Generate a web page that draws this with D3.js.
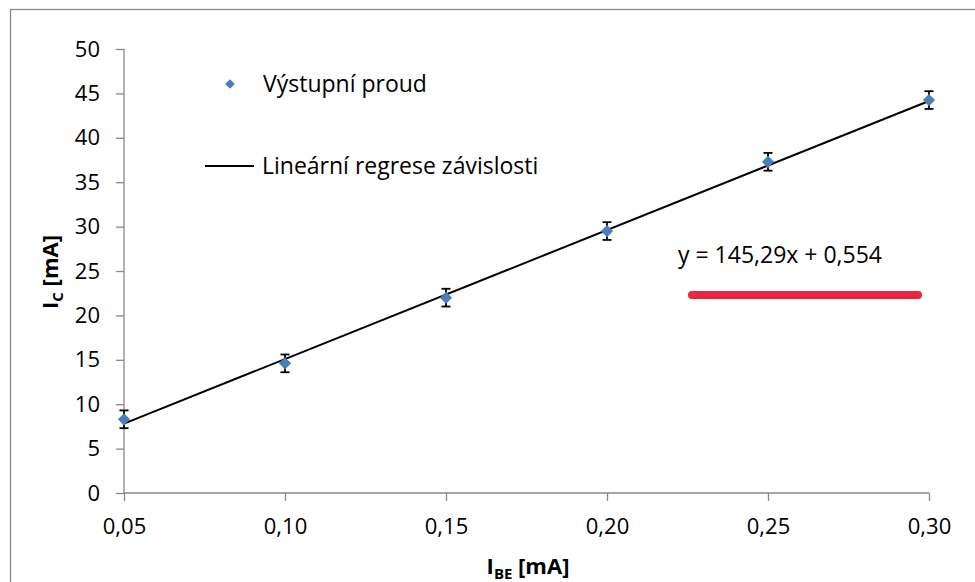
<!DOCTYPE html>
<html>
<head>
<meta charset="utf-8">
<script src="https://cdn.jsdelivr.net/npm/d3@7"></script>
<style>
  body { margin: 0; background: #fff; }
  text { font-family: "Open Sans", sans-serif; fill: #000; }
</style>
</head>
<body>
<div id="chart"></div>
<script>
// measured points: base current (mA) vs collector current (mA)
const ibe = [0.05, 0.10, 0.15, 0.20, 0.25, 0.30];
const ic = [8.3, 14.6, 22.0, 29.5, 37.3, 44.25];
const icErr = [1, 1, 1, 1, 1, 1];
const xTicks = [0.05, 0.10, 0.15, 0.20, 0.25, 0.30];
const yTicks = [0, 5, 10, 15, 20, 25, 30, 35, 40, 45, 50];
// trendline from the chart label
const slope = 145.29;
const intercept = 0.554;
const equation = "y = 145,29x + 0,554";
const legendLabels = ["Výstupní proud", "Lineární regrese závislosti"];

function chart() {
  const W = 975, H = 582;
  const left = 124, right = 929, top = 49, bottom = 493;
  const axisColor = "#898989";
  const fs = 23;

  const loc = d3.formatLocale({ decimal: ",", thousands: " ", grouping: [3], currency: ["", ""] });
  const fmt2 = loc.format(".2f");

  const svg = d3.select("#chart").append("svg")
    .attr("width", W).attr("height", H);

  // outer frame (cropped at right and bottom)
  svg.append("rect")
    .attr("x", 10.5).attr("y", 9.5)
    .attr("width", W + 20).attr("height", H + 20)
    .attr("fill", "none").attr("stroke", axisColor).attr("stroke-width", 1.3);

  const x = d3.scaleLinear().domain([0.05, 0.30]).range([left, right]);
  const y = d3.scaleLinear().domain([0, 50]).range([bottom, top]);

  const yAxis = svg.append("g")
    .attr("transform", `translate(${left},0)`)
    .call(d3.axisLeft(y).tickValues(yTicks).tickSize(8).tickPadding(16).tickFormat(d3.format("d")));
  const xAxis = svg.append("g")
    .attr("transform", `translate(0,${bottom})`)
    .call(d3.axisBottom(x).tickValues(xTicks).tickSize(8).tickPadding(17).tickFormat(fmt2));

  [xAxis, yAxis].forEach(a => {
    a.select(".domain").attr("stroke", axisColor).attr("stroke-width", 1.3);
    a.selectAll(".tick line").attr("stroke", axisColor).attr("stroke-width", 1.3);
    a.selectAll(".tick text")
      .attr("font-family", "Open Sans, sans-serif")
      .attr("font-size", fs - 1).attr("fill", "#000");
  });
  yAxis.select(".domain").attr("d", `M0,${top}V${bottom}`);
  xAxis.select(".domain").attr("d", `M${left},0H${right}`);

  // regression line
  const x0 = xTicks[0], x1 = xTicks[xTicks.length - 1];
  svg.append("line")
    .attr("x1", x(x0)).attr("y1", y(slope * x0 + intercept))
    .attr("x2", x(x1)).attr("y2", y(slope * x1 + intercept))
    .attr("stroke", "#000").attr("stroke-width", 2);

  const pts = ibe.map((v, i) => ({ x: v, y: ic[i], e: icErr[i] }));

  // error bars
  const eb = svg.append("g").attr("stroke", "#000").attr("stroke-width", 1.8);
  pts.forEach(d => {
    const cx = x(d.x);
    eb.append("line").attr("x1", cx).attr("x2", cx).attr("y1", y(d.y - d.e)).attr("y2", y(d.y + d.e));
    eb.append("line").attr("x1", cx - 4.5).attr("x2", cx + 4.5).attr("y1", y(d.y - d.e)).attr("y2", y(d.y - d.e));
    eb.append("line").attr("x1", cx - 4.5).attr("x2", cx + 4.5).attr("y1", y(d.y + d.e)).attr("y2", y(d.y + d.e));
  });

  // diamond markers
  const diamond = d3.symbol().type(d3.symbolDiamond2).size(95);
  svg.selectAll(".pt").data(pts).join("path")
    .attr("class", "pt")
    .attr("d", diamond)
    .attr("transform", d => `translate(${x(d.x)},${y(d.y)})`)
    .attr("fill", "#4a7ebb");

  // legend
  svg.append("path")
    .attr("d", d3.symbol().type(d3.symbolDiamond2).size(60))
    .attr("transform", "translate(230,84)")
    .attr("fill", "#4a7ebb");
  svg.append("text").attr("x", 263).attr("y", 92).attr("font-size", fs).text(legendLabels[0]);
  svg.append("line").attr("x1", 205).attr("x2", 254).attr("y1", 166).attr("y2", 166)
    .attr("stroke", "#000").attr("stroke-width", 2);
  svg.append("text").attr("x", 262).attr("y", 174).attr("font-size", fs).text(legendLabels[1]);

  // equation + red highlight
  svg.append("text").attr("x", 678).attr("y", 263).attr("font-size", fs).text(equation);
  svg.append("line").attr("x1", 692).attr("x2", 918).attr("y1", 295).attr("y2", 295)
    .attr("stroke", "#e8273f").attr("stroke-width", 8).attr("stroke-linecap", "round");

  // axis titles
  const xt = svg.append("text").attr("x", 528).attr("y", 574)
    .attr("text-anchor", "middle").attr("font-size", fs - 1).attr("font-weight", "bold");
  xt.append("tspan").text("I");
  xt.append("tspan").attr("font-size", 15).attr("dy", 5).text("BE");
  xt.append("tspan").attr("dy", -5).text(" [mA]");

  const yt = svg.append("text")
    .attr("transform", "translate(58,272) rotate(-90)")
    .attr("text-anchor", "middle").attr("font-size", fs - 1).attr("font-weight", "bold");
  yt.append("tspan").text("I");
  yt.append("tspan").attr("font-size", 15).attr("dy", 5).text("C");
  yt.append("tspan").attr("dy", -5).text(" [mA]");
}

chart();
</script>
</body>
</html>
